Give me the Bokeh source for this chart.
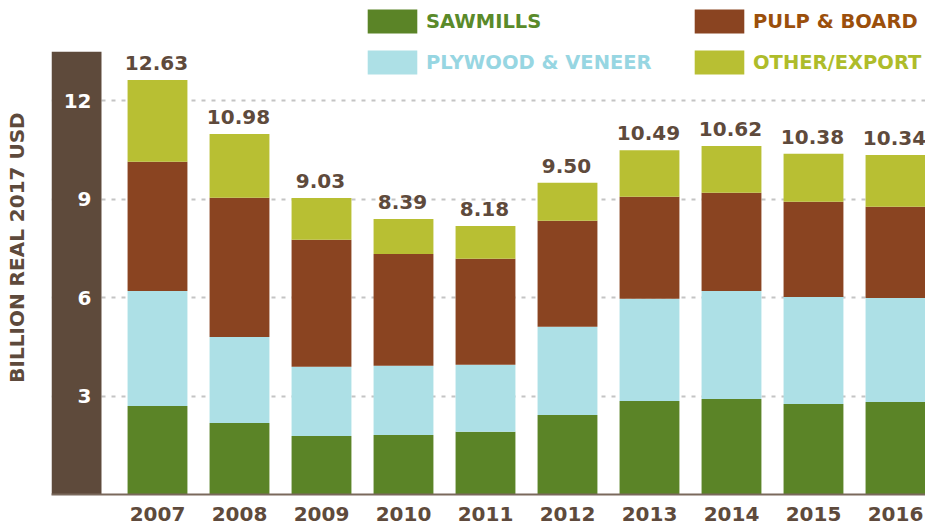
from bokeh.plotting import figure
from bokeh.models import (Range1d, LinearAxis, FixedTicker, Legend, LegendItem,
                          ColumnDataSource, BoxAnnotation)
from bokeh.core.properties import value
from bokeh.embed import file_html
from bokeh.resources import INLINE

years = ["2007", "2008", "2009", "2010", "2011", "2012", "2013", "2014", "2015", "2016"]
sawmills = [2.70, 2.18, 1.78, 1.81, 1.91, 2.42, 2.85, 2.91, 2.76, 2.82]
plywood = [3.50, 2.62, 2.11, 2.11, 2.04, 2.69, 3.11, 3.29, 3.26, 3.17]
pulp = [3.94, 4.24, 3.87, 3.41, 3.23, 3.23, 3.11, 2.99, 2.90, 2.78]
other = [2.49, 1.94, 1.27, 1.06, 1.00, 1.16, 1.42, 1.43, 1.46, 1.57]
y_ticks = [3, 6, 9, 12]
series_names = ["SAWMILLS", "PLYWOOD & VENEER", "PULP & BOARD", "OTHER/EXPORT"]
bar_colors = ["#5b8427", "#ade0e6", "#8a4421", "#b8bf33"]
text_colors = ["#5a8a2a", "#97d6e2", "#9b4f0b", "#aebc2a"]

FONT = "DejaVu Sans"
BROWN = "#5e4a3c"
BAND = "#5e4a3b"

xs = list(range(len(years)))
keys = ["sawmills", "plywood", "pulp", "other"]
totals = [round(a + b + c + d, 2) for a, b, c, d in zip(sawmills, plywood, pulp, other)]
src = ColumnDataSource(dict(x=xs, sawmills=sawmills, plywood=plywood, pulp=pulp, other=other,
                            total=totals, label=["%.2f" % t for t in totals]))

X_START, X_END = -1.2927, 9.366
BAND_RIGHT = -0.683
Y_END = 15.05
BAND_TOP = 13.49

p = figure(frame_width=874, frame_height=494, x_range=Range1d(X_START, X_END),
           y_range=Range1d(0, Y_END),
           output_backend="svg", toolbar_location=None, x_axis_location=None, y_axis_location=None,
           min_border_left=51, min_border_top=0, min_border_right=0, min_border_bottom=31,
           outline_line_color=None, background_fill_color="white", border_fill_color="white")

p.xgrid.visible = False
p.ygrid.ticker = FixedTicker(ticks=y_ticks)
p.ygrid.grid_line_color = "#c4c4c4"
p.ygrid.grid_line_width = 2
p.ygrid.grid_line_dash = "4 6"

# dark band behind the y tick labels
p.add_layout(BoxAnnotation(left=X_START, right=BAND_RIGHT, bottom=0, top=BAND_TOP,
                           fill_color=BAND, fill_alpha=1, line_color=None, level="glyph"))

rs = p.vbar_stack(keys, x="x", width=0.73, color=bar_colors, line_color=None, source=src)

p.text(x="x", y="total", text="label", source=src, text_align="center", text_baseline="alphabetic",
       x_offset=-1, y_offset=-17, text_font=value(FONT), text_font_style="bold",
       text_font_size="20px", text_color=BROWN)

# x axis
xaxis = LinearAxis(ticker=FixedTicker(ticks=xs),
                   major_label_overrides={i: y for i, y in zip(xs, years)})
xaxis.axis_line_color = "#7a695c"
xaxis.axis_line_width = 2
xaxis.major_tick_line_color = None
xaxis.minor_tick_line_color = None
xaxis.major_tick_out = 0
xaxis.major_tick_in = 0
xaxis.major_label_standoff = 12
xaxis.major_label_text_font = FONT
xaxis.major_label_text_font_style = "bold"
xaxis.major_label_text_font_size = "20px"
xaxis.major_label_text_color = BROWN
p.add_layout(xaxis, "below")

# y axis tick labels drawn at the band's right edge
yaxis = LinearAxis(ticker=FixedTicker(ticks=y_ticks), fixed_location=BAND_RIGHT)
yaxis.axis_line_color = None
yaxis.major_tick_line_color = None
yaxis.minor_tick_line_color = None
yaxis.major_tick_out = 0
yaxis.major_tick_in = 0
yaxis.major_label_standoff = 10
yaxis.major_label_text_font = FONT
yaxis.major_label_text_font_style = "bold"
yaxis.major_label_text_font_size = "20px"
yaxis.major_label_text_color = "white"
p.add_layout(yaxis, "left")

# y axis title in the left border
ytitle = LinearAxis(ticker=FixedTicker(ticks=[]), bounds=(0, 15.32))
ytitle.axis_line_color = None
ytitle.major_tick_line_color = None
ytitle.minor_tick_line_color = None
ytitle.major_tick_out = 0
ytitle.major_tick_in = 0
ytitle.axis_label = "BILLION REAL 2017 USD"
ytitle.axis_label_standoff = 23
ytitle.axis_label_text_font = FONT
ytitle.axis_label_text_font_style = "bold"
ytitle.axis_label_text_font_size = "20px"
ytitle.axis_label_text_color = BROWN
p.add_layout(ytitle, "left")

# legends (area legend glyphs are inset by 10% on each side)
locs = [(310, 458), (310, 417), (637, 458), (637, 417)]
for r, name, col, loc in zip(rs, series_names, text_colors, locs):
    leg = Legend(items=[LegendItem(label=name, renderers=[r])], location=loc,
                 glyph_width=62, glyph_height=30, label_standoff=3, padding=0, margin=0,
                 spacing=0, border_line_color=None, background_fill_alpha=0,
                 label_text_font=FONT, label_text_font_style="bold", label_text_font_size="19.5px",
                 label_text_color=col, label_height=30)
    p.add_layout(leg)

open("out.html", "w").write(file_html(p, INLINE))
